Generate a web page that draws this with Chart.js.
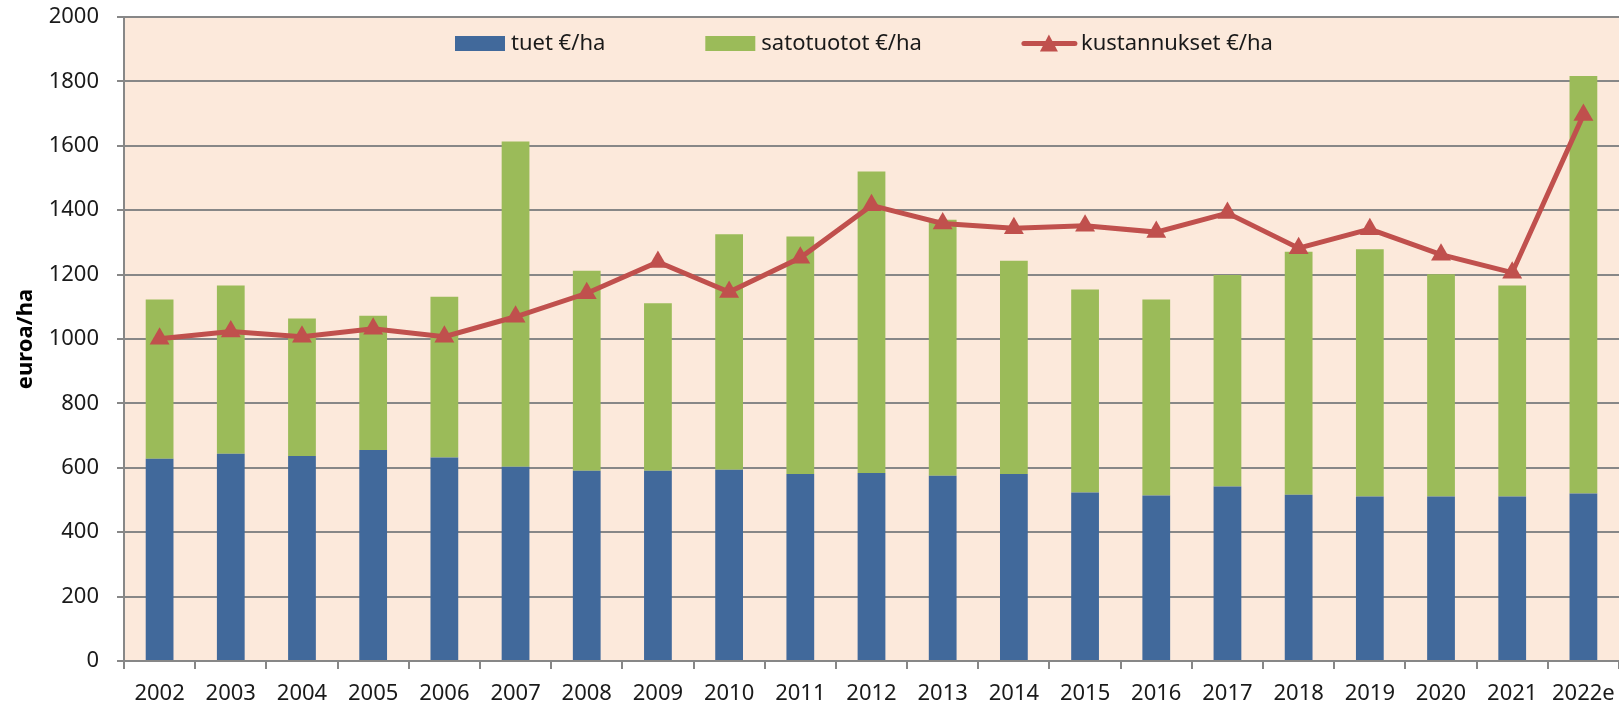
<!DOCTYPE html>
<html lang="fi">
<head>
    <meta charset="UTF-8">
    <title>Tuet, satotuotot ja kustannukset</title>
    <script src="https://cdn.jsdelivr.net/npm/chart.js"></script>
    <style>
        html, body {
            margin: 0;
            padding: 0;
            background: #ffffff;
        }
        .wrapper {
            width: 1619px;
            height: 706px;
        }
    </style>
</head>
<body>
    <div class="wrapper">
        <canvas id="costChart"></canvas>
    </div>

    <script>
        const years = ['2002', '2003', '2004', '2005', '2006', '2007', '2008', '2009', '2010', '2011',
            '2012', '2013', '2014', '2015', '2016', '2017', '2018', '2019', '2020', '2021', '2022e'];
        const tuet = [628, 644, 637, 655, 632, 603, 591, 591, 594, 581,
            584, 575, 581, 523, 514, 542, 516, 511, 511, 511, 520];
        const satotuotot = [495, 522, 427, 417, 499, 1010, 621, 520, 731, 737,
            936, 795, 662, 631, 609, 657, 755, 768, 690, 655, 1297];
        const kustannukset = [1001, 1023, 1007, 1032, 1007, 1069, 1142, 1239, 1146, 1252,
            1415, 1359, 1344, 1352, 1332, 1391, 1282, 1341, 1262, 1206, 1696];
        const yTicks = [0, 200, 400, 600, 800, 1000, 1200, 1400, 1600, 1800, 2000];

        const gridGray = '#878787';
        const fontFamily = '"Noto Sans", "Open Sans", sans-serif';

        // peach plot background
        const plotBackground = {
            id: 'plotBackground',
            beforeDraw(chart) {
                const { ctx, chartArea } = chart;
                ctx.save();
                ctx.fillStyle = '#FCE9DB';
                ctx.fillRect(chartArea.left, chartArea.top, chartArea.right - chartArea.left, chartArea.bottom - chartArea.top);
                ctx.restore();
            }
        };

        // legend sits inside the plot area, like in the original
        const innerLegend = {
            id: 'innerLegend',
            afterDraw(chart) {
                const { ctx, chartArea } = chart;
                const y = chartArea.top + 26.5;
                let x = chartArea.left + 331;
                ctx.save();
                ctx.font = '22px ' + fontFamily;
                ctx.textBaseline = 'middle';
                chart.data.datasets.forEach(ds => {
                    let tx;
                    if (ds.type === 'line') {
                        ctx.strokeStyle = ds.borderColor;
                        ctx.lineWidth = 5;
                        ctx.lineCap = 'round';
                        ctx.beginPath();
                        ctx.moveTo(x + 2, y);
                        ctx.lineTo(x + 53, y);
                        ctx.stroke();
                        ctx.fillStyle = ds.borderColor;
                        ctx.beginPath();
                        ctx.moveTo(x + 27, y - 9);
                        ctx.lineTo(x + 36, y + 8);
                        ctx.lineTo(x + 18, y + 8);
                        ctx.closePath();
                        ctx.fill();
                        tx = x + 59;
                    } else {
                        ctx.fillStyle = ds.backgroundColor;
                        ctx.fillRect(x, y - 7.5, 50, 15);
                        tx = x + 56;
                    }
                    ctx.fillStyle = '#1a1a1a';
                    ctx.fillText(ds.label, tx, y);
                    x = tx + ctx.measureText(ds.label).width + 100;
                });
                ctx.restore();
            }
        };

        const ctx = document.getElementById('costChart').getContext('2d');
        const costChart = new Chart(ctx, {
            type: 'bar',
            data: {
                labels: years,
                datasets: [
                    {
                        label: 'tuet €/ha',
                        data: tuet,
                        backgroundColor: '#41699B',
                        stack: 'income',
                        order: 1
                    },
                    {
                        label: 'satotuotot €/ha',
                        data: satotuotot,
                        backgroundColor: '#9BBB59',
                        stack: 'income',
                        order: 1
                    },
                    {
                        type: 'line',
                        label: 'kustannukset €/ha',
                        data: kustannukset,
                        borderColor: '#C0504D',
                        backgroundColor: '#C0504D',
                        borderWidth: 5,
                        pointStyle: 'triangle',
                        pointRadius: 11.5,
                        pointHoverRadius: 11.5,
                        pointBackgroundColor: '#C0504D',
                        pointBorderWidth: 0,
                        tension: 0,
                        stack: 'cost',
                        order: 0
                    }
                ]
            },
            options: {
                responsive: true,
                maintainAspectRatio: false,
                animation: false,
                layout: {
                    autoPadding: false,
                    padding: 0
                },
                datasets: {
                    bar: {
                        barPercentage: 0.39,
                        categoryPercentage: 1
                    }
                },
                scales: {
                    x: {
                        stacked: true,
                        afterFit: axis => {
                            axis.paddingRight = 0;
                            axis.height = 45;
                        },
                        grid: {
                            offset: true,
                            drawOnChartArea: false,
                            drawTicks: true,
                            tickLength: 8,
                            color: gridGray,
                            lineWidth: 2
                        },
                        border: {
                            color: gridGray,
                            width: 2
                        },
                        ticks: {
                            color: '#1a1a1a',
                            maxRotation: 0,
                            autoSkip: false,
                            padding: 12,
                            font: { family: fontFamily, size: 22 }
                        }
                    },
                    y: {
                        stacked: true,
                        min: 0,
                        max: 2000,
                        afterBuildTicks: axis => {
                            axis.ticks = yTicks.map(v => ({ value: v }));
                        },
                        afterFit: axis => {
                            axis.width = 124;
                            axis.paddingTop = 17;
                        },
                        grid: {
                            color: gridGray,
                            lineWidth: 2,
                            drawTicks: true,
                            tickLength: 7
                        },
                        border: {
                            color: gridGray,
                            width: 2
                        },
                        ticks: {
                            color: '#1a1a1a',
                            padding: 18,
                            font: { family: fontFamily, size: 22 },
                            callback: value => String(value)
                        },
                        title: {
                            display: true,
                            text: 'euroa/ha',
                            color: '#000',
                            padding: { top: 13, bottom: 0 },
                            font: { family: fontFamily, size: 22, weight: 'bold' }
                        }
                    }
                },
                plugins: {
                    legend: { display: false },
                    tooltip: { enabled: false }
                }
            },
            plugins: [plotBackground, innerLegend]
        });
    </script>
</body>
</html>
